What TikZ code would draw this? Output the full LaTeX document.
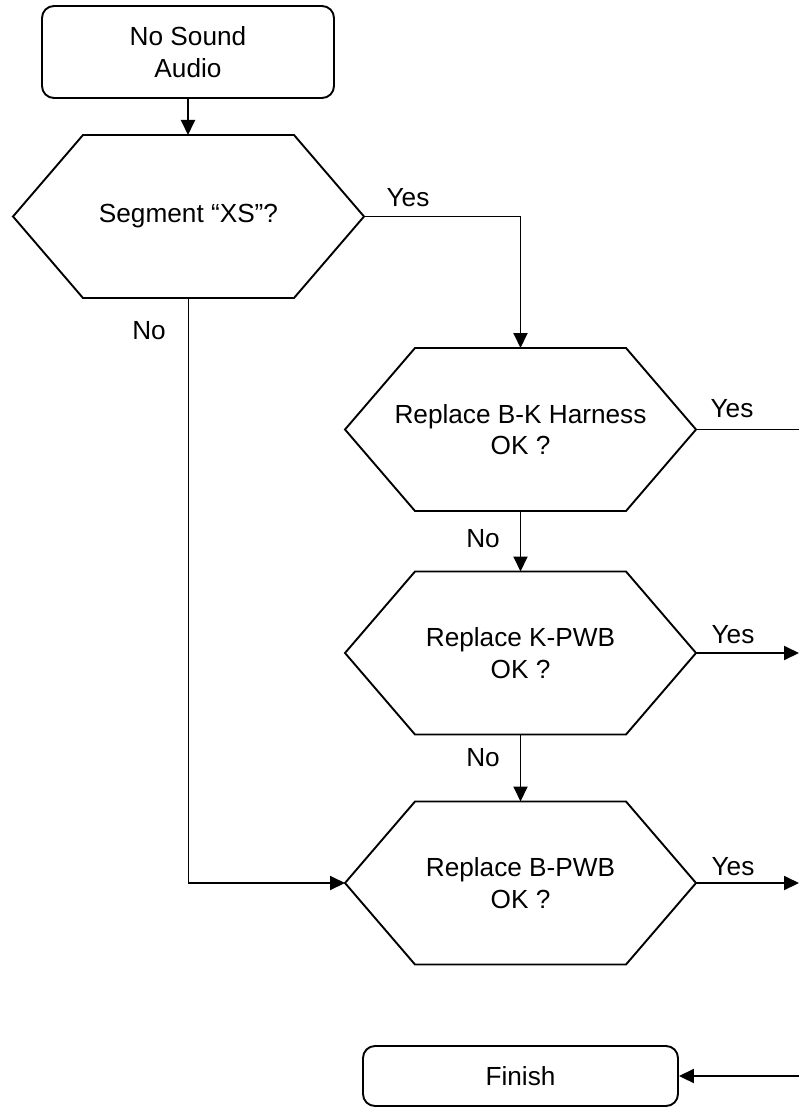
\documentclass[tikz,border=0pt]{standalone}
\usepackage{fontspec}
\setmainfont{Liberation Sans}
\usetikzlibrary{arrows.meta,calc}
\begin{document}
\begin{tikzpicture}[x=1pt,y=-1pt,
  every node/.style={font=\fontsize{26.2}{31.5}\selectfont},
  line/.style={line width=1.9pt,line join=miter},
  arr/.style={line, -{Triangle[length=15pt,width=14pt]}},
  roundbox/.style={draw,line width=1.9pt,rounded corners=12pt,align=center,inner sep=0pt},
  hexcore/.style={inner sep=0pt,align=center},
  lbl/.style={inner sep=0pt}
]
\useasboundingbox (0,0) rectangle (799,1107);
% start
\node[roundbox,minimum width=292pt,minimum height=92pt] (start) at (188,52) {No Sound\\Audio};
% hexagons
\node[hexcore] (h1) at (188.5,216.5) {Segment “XS”?};
\node[hexcore] (h2) at (520.5,429.5) {Replace B-K Harness\\OK ?};
\node[hexcore] (h3) at (520.5,653) {Replace K-PWB\\OK ?};
\node[hexcore] (h4) at (520.5,883) {Replace B-PWB\\OK ?};
\foreach \h in {h1,h2,h3,h4}{
  \coordinate (\h e) at ($(\h.center)+(175.5,0)$);
  \coordinate (\h w) at ($(\h.center)-(175.5,0)$);
  \coordinate (\h n) at ($(\h.center)+(0,-81.5)$);
  \coordinate (\h s) at ($(\h.center)+(0,81.5)$);
  \draw[line] ($(\h.center)+(-105.5,-81.5)$) -- ($(\h.center)+(105.5,-81.5)$) -- (\h e)
     -- ($(\h.center)+(105.5,81.5)$) -- ($(\h.center)+(-105.5,81.5)$) -- (\h w) -- cycle;
}
% finish
\node[roundbox,minimum width=315pt,minimum height=60pt] (fin) at (520.5,1076) {Finish};
% right edge free ends
\coordinate (r2) at (799,429.5);
\coordinate (r3) at (799,653);
\coordinate (r4) at (799,883);
\coordinate (r5) at (799,1076);
% connectors
\draw[arr] (start.south) -- (start.south |- h1n);
\draw[arr] (h1e) -| (h2n);
\draw[arr] (h1s) |- (h4w);
\draw[arr] (h2s) -- (h3n);
\draw[arr] (h3s) -- (h4n);
\draw[line] (h2e) -- (r2);
\draw[arr] (h3e) -- (r3);
\draw[arr] (h4e) -- (r4);
\draw[arr] (r5) -- (fin.east);
% labels
\node[lbl] (y1) at (408,198) {Yes};
\node[lbl] (n1) at (149,331) {No};
\node[lbl] (y2) at (732,409) {Yes};
\node[lbl] (n2) at (483,539) {No};
\node[lbl] (y3) at (733,635) {Yes};
\node[lbl] (n3) at (483,758) {No};
\node[lbl] (y4) at (733,867) {Yes};
\end{tikzpicture}
\end{document}
